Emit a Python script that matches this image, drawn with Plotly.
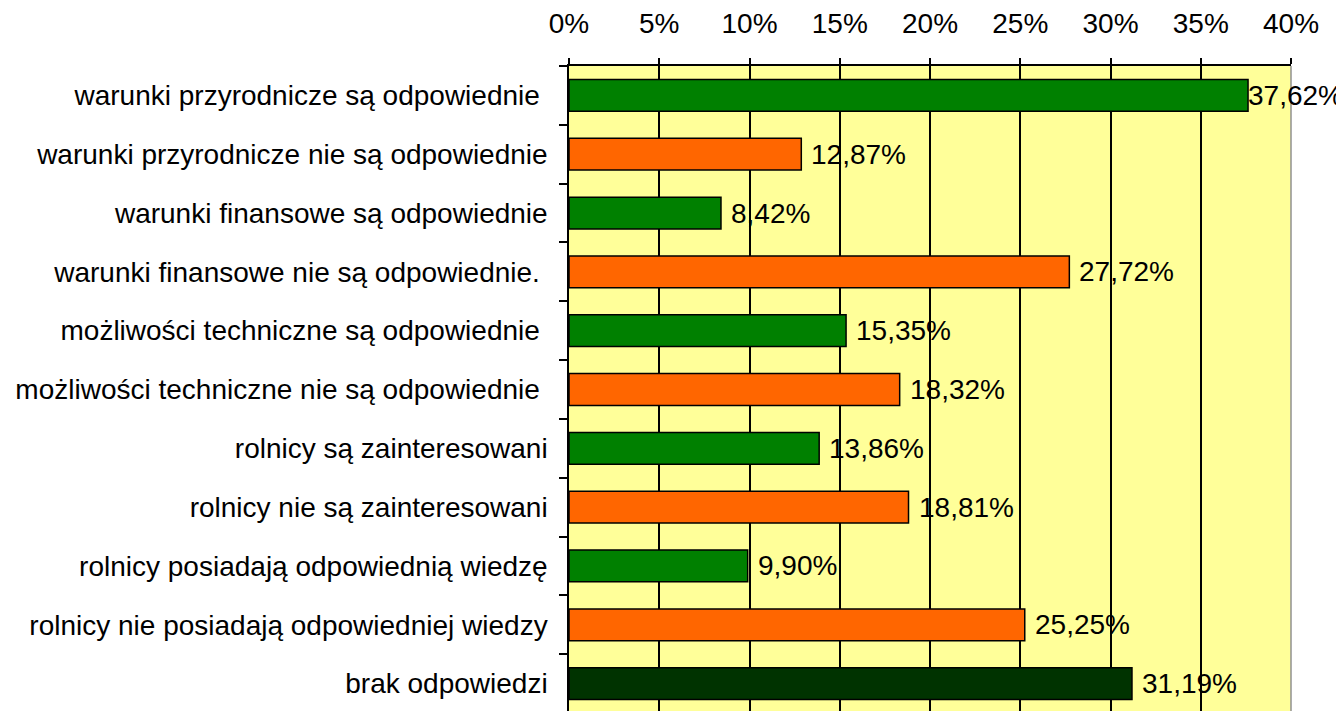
import plotly.graph_objects as go

categories = [
    "warunki przyrodnicze są odpowiednie\u00a0",
    "warunki przyrodnicze nie są odpowiednie",
    "warunki finansowe są odpowiednie",
    "warunki finansowe nie są odpowiednie.\u00a0",
    "możliwości techniczne są odpowiednie\u00a0",
    "możliwości techniczne nie są odpowiednie\u00a0",
    "rolnicy są zainteresowani",
    "rolnicy nie są zainteresowani",
    "rolnicy posiadają odpowiednią wiedzę",
    "rolnicy nie posiadają odpowiedniej wiedzy",
    "brak odpowiedzi",
]
values = [37.62, 12.87, 8.42, 27.72, 15.35, 18.32, 13.86, 18.81, 9.90, 25.25, 31.19]
value_labels = ["37,62%", "12,87%", "8,42%", "27,72%", "15,35%", "18,32%",
                "13,86%", "18,81%", "9,90%", "25,25%", "31,19%"]
bar_colors = ["#008000", "#FF6600"] * 5 + ["#003300"]
x_ticks = [0, 5, 10, 15, 20, 25, 30, 35, 40]
x_tick_labels = [f"{t}%" for t in x_ticks]

FONT = "Liberation Sans, Arial, sans-serif"
FS = 28

W, H = 1336, 703          # page body has an 8px margin
ML, MR, MT, MB = 561, 53, 56, 0
XMAX = 40
plot_w = W - ML - MR

fig = go.Figure(
    go.Bar(
        x=values,
        y=categories,
        orientation="h",
        width=0.54,
        marker=dict(color=bar_colors, line=dict(color="black", width=1.5)),
        hoverinfo="skip",
    )
)

# value labels placed just right of each bar end, kept inside the figure
label_w = 95
for v, lab, cat in zip(values, value_labels, categories):
    px = ML + v / XMAX * plot_w
    shift = 8
    if px + shift + label_w > W - 3:
        shift = (W - 3) - label_w - px
    fig.add_annotation(
        x=v, y=cat, xref="x", yref="y", text=lab, showarrow=False,
        xanchor="left", yanchor="middle", xshift=shift,
        font=dict(size=FS, family=FONT, color="black"),
    )

fig.update_layout(
    width=W,
    height=H,
    margin=dict(l=ML, r=MR, t=MT, b=MB),
    paper_bgcolor="white",
    plot_bgcolor="#FFFF99",
    showlegend=False,
    font=dict(family=FONT, size=FS, color="black"),
)

fig.update_xaxes(
    side="top",
    range=[0, XMAX],
    tickvals=x_ticks,
    ticktext=x_tick_labels,
    ticks="outside",
    ticklen=6,
    tickwidth=1.5,
    tickcolor="black",
    showgrid=True,
    gridcolor="black",
    gridwidth=1.5,
    showline=True,
    linecolor="black",
    linewidth=1.5,
    zeroline=False,
    ticklabelstandoff=14,
    tickfont=dict(size=FS, family=FONT),
)

fig.update_yaxes(
    type="category",
    categoryorder="array",
    categoryarray=categories,
    range=[10.466, -0.5],
    tickson="boundaries",
    ticks="outside",
    ticklen=8,
    tickwidth=1.5,
    tickcolor="black",
    showgrid=False,
    showline=True,
    linecolor="black",
    linewidth=1.5,
    zeroline=False,
    ticklabelstandoff=14,
    tickfont=dict(size=FS, family=FONT),
)

fig.add_shape(type="line", xref="paper", yref="paper", x0=1, x1=1, y0=0, y1=1,
              line=dict(color="#909090", width=1.5), layer="above")

fig.write_html("out.html")
